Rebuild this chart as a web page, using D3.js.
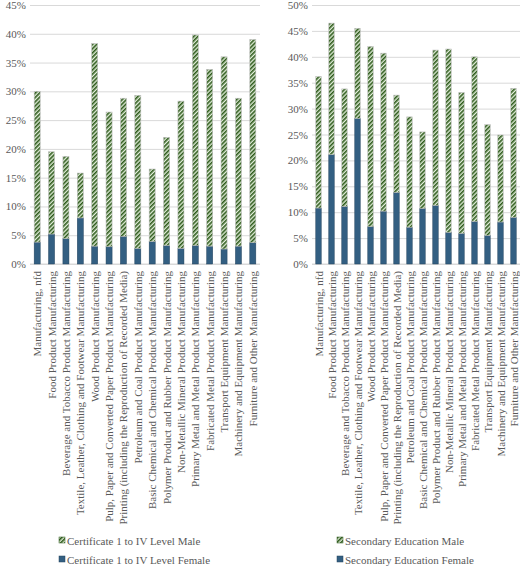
<!DOCTYPE html>
<html><head><meta charset="utf-8">
<script src="https://cdn.jsdelivr.net/npm/d3@7"></script>
<style>body{margin:0;background:#fff}text{font-family:"Liberation Serif","Times New Roman",serif;fill:#595959}</style>
</head><body><svg id="c" width="520" height="567"></svg>
<script>
const categories=["Manufacturing, nfd","Food Product Manufacturing","Beverage and Tobacco Product Manufacturing","Textile, Leather, Clothing and Footwear Manufacturing","Wood Product Manufacturing","Pulp, Paper and Converted Paper Product Manufacturing","Printing (including the Reproduction of Recorded Media)","Petroleum and Coal Product Manufacturing","Basic Chemical and Chemical Product Manufacturing","Polymer Product and Rubber Product Manufacturing","Non-Metallic Mineral Product Manufacturing","Primary Metal and Metal Product Manufacturing","Fabricated Metal Product Manufacturing","Transport Equipment Manufacturing","Machinery and Equipment Manufacturing","Furniture and Other Manufacturing"];
const certFemale=[3.8,5.2,4.4,8.0,3.1,3.0,4.8,2.7,3.9,3.2,2.7,3.2,3.1,2.6,3.1,3.7];
const certMale=[26.2,14.3,14.3,7.8,35.2,23.4,24.0,26.6,12.6,18.8,25.6,36.6,30.7,33.4,25.7,35.3];
const secFemale=[10.8,21.1,11.1,28.1,7.2,10.2,13.8,7.1,10.7,11.3,6.1,5.9,8.2,5.5,8.1,9.0];
const secMale=[25.4,25.4,22.7,17.4,34.8,30.5,18.8,21.3,14.8,30.0,35.4,27.2,31.8,21.4,16.8,24.9];
const certTicks=[0,5,10,15,20,25,30,35,40,45];
const secTicks=[0,5,10,15,20,25,30,35,40,45,50];
const certLegend=["Certificate 1 to IV Level Male","Certificate 1 to IV Level Female"];
const secLegend=["Secondary Education Male","Secondary Education Female"];

const svg=d3.select("#c");
const defs=svg.append("defs");
const p=defs.append("pattern").attr("id","hatch").attr("patternUnits","userSpaceOnUse").attr("width",3).attr("height",3).attr("patternTransform","rotate(-45)");
p.append("rect").attr("width",3).attr("height",3).attr("fill","#e2efda");
p.append("rect").attr("width",3).attr("height",1.6).attr("fill","#2e5a1c");

function panel(x0,x1,ticks,female,male,legend,legX){
  const y=d3.scaleLinear().domain([0,d3.max(ticks)]).range([264,5]);
  const x=d3.scaleBand().domain(categories).range([x0,x1]).paddingInner(0.58).paddingOuter(0.29);
  const g=svg.append("g");
  const ax=g.append("g").attr("transform",`translate(${x0},0)`)
    .call(d3.axisLeft(y).tickValues(ticks).tickFormat(d=>d+"%").tickSize(-(x1-x0)).tickPadding(4));
  ax.select(".domain").remove();
  ax.selectAll("line").attr("stroke","#d9d9d9");
  ax.selectAll("text").attr("font-size",11).style("fill","#595959").attr("font-family","Liberation Serif");
  g.append("line").attr("x1",x0).attr("x2",x1).attr("y1",y(0)).attr("y2",y(0)).attr("stroke","#d9d9d9");
  g.selectAll(".f").data(categories).join("rect")
    .attr("x",d=>x(d)).attr("width",x.bandwidth())
    .attr("y",(d,i)=>y(female[i])).attr("height",(d,i)=>y(0)-y(female[i]))
    .attr("fill","#335f82").attr("stroke","#24445e").attr("stroke-width",0.5);
  g.selectAll(".m").data(categories).join("rect")
    .attr("x",d=>x(d)).attr("width",x.bandwidth())
    .attr("y",(d,i)=>y(female[i]+male[i])).attr("height",(d,i)=>y(female[i])-y(female[i]+male[i]))
    .attr("fill","url(#hatch)").attr("stroke","#bfbfbf").attr("stroke-width",0.6);
  g.selectAll(".lab").data(categories).join("text")
    .attr("transform",d=>`translate(${x(d)+x.bandwidth()/2+4},271) rotate(-90)`)
    .attr("text-anchor","end").attr("font-size",11).text(d=>d);
  legend.forEach((t,i)=>{
    const ly=541+i*19;
    g.append("rect").attr("x",legX).attr("y",ly-4).attr("width",6).attr("height",6)
      .attr("fill",i==0?"url(#hatch)":"#335f82").attr("stroke",i==0?"#2e5a1c":"#24445e").attr("stroke-width",0.5);
    g.append("text").attr("x",legX+8).attr("y",ly+3.5).attr("font-size",11).text(t);
  });
}
panel(30,260,certTicks,certFemale,certMale,certLegend,59);
panel(312,520,secTicks,secFemale,secMale,secLegend,337);
</script></body></html>
